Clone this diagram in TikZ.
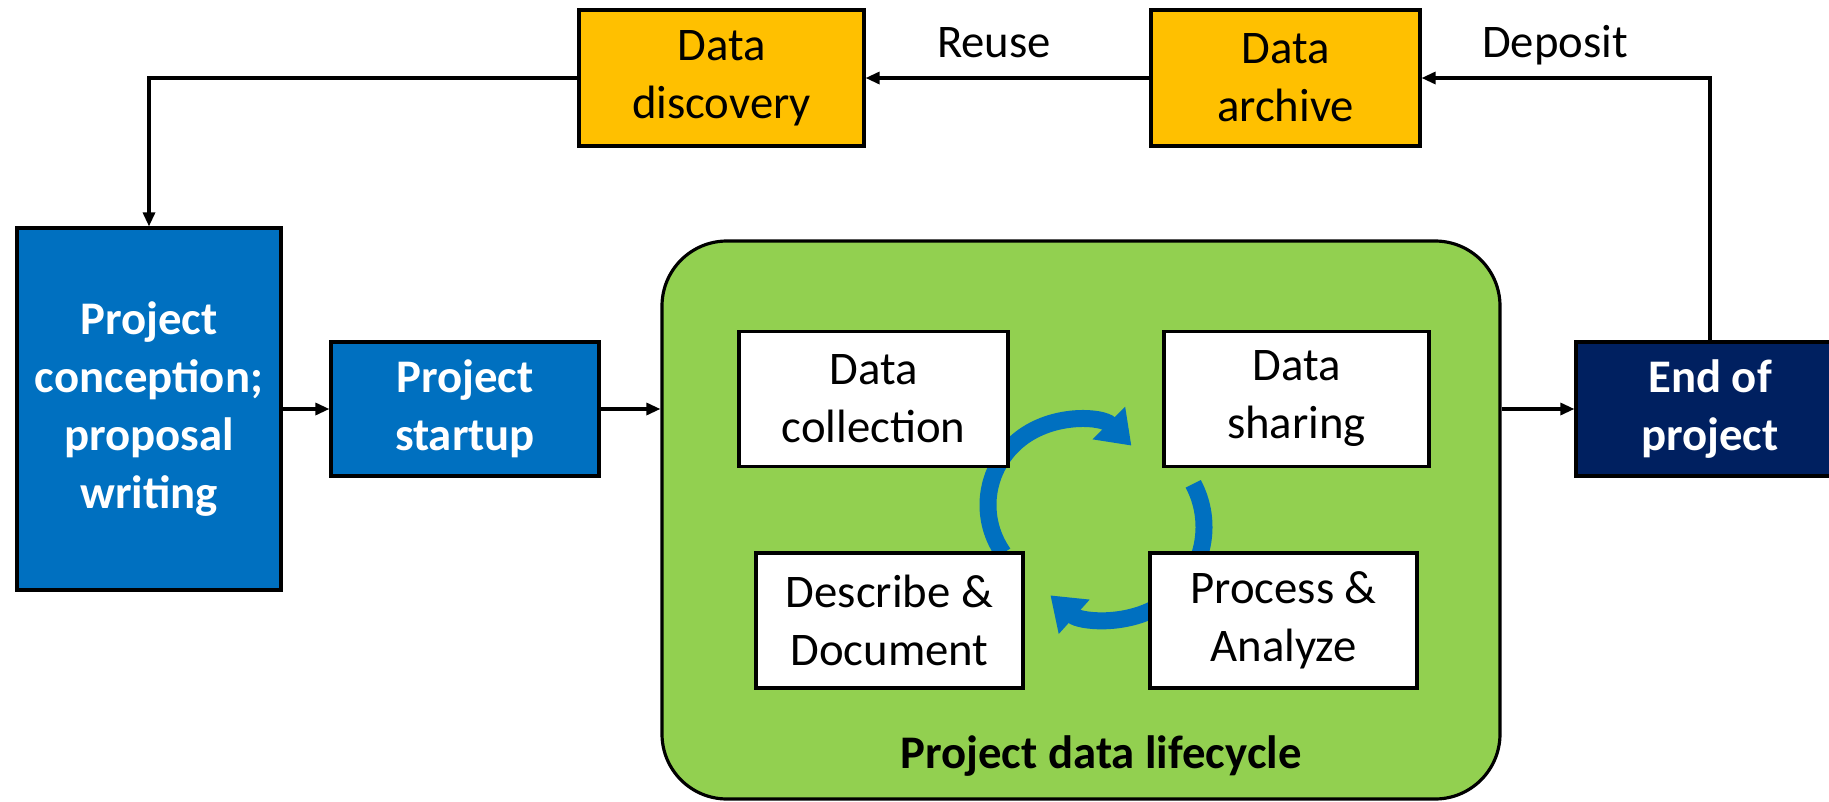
\documentclass[tikz,border=0pt]{standalone}
\usepackage{fontspec}
\setmainfont{Carlito}
\usetikzlibrary{arrows.meta}
\definecolor{boxorange}{HTML}{FFC000}
\definecolor{boxblue}{HTML}{0070C0}
\definecolor{boxnavy}{HTML}{002060}
\definecolor{cyclegreen}{HTML}{92D050}
\newcommand{\boxfont}{\fontsize{13.3}{16.5}\selectfont}
\tikzset{
	box/.style={draw=black,line width=0.9pt,align=center,inner sep=0pt,font=\boxfont},
	orangebox/.style={box,fill=boxorange,minimum height=1.36cm},
	bluebox/.style={box,fill=boxblue,text=white,font=\boxfont\bfseries},
	whitebox/.style={box,fill=white,minimum width=2.67cm,minimum height=1.35cm},
	link/.style={line width=0.9pt,-{Triangle[length=1.4mm,width=1.2mm]}},
	turn/.style={boxblue,line width=1.7mm,-{Triangle[length=3.2mm,width=4.4mm]}}
}
\begin{document}
\begin{tikzpicture}
	\useasboundingbox (0,0) rectangle (18.29,-8.02);
	\clip (0,0) rectangle (18.29,-8.02);
	\node[orangebox,minimum width=2.85cm] (disc) at (7.215,-0.78) {Data\\discovery};
	\node[orangebox,minimum width=2.69cm] (arch) at (12.855,-0.78) {Data\\archive};
	\node[bluebox,minimum width=2.64cm,minimum height=3.62cm] (concept) at (1.49,-4.09) {Project\\conception;\\proposal\\writing};
	\node[bluebox,minimum width=2.68cm,minimum height=1.34cm] (startup) at (4.65,-4.09) {Project\\startup};
	\node[bluebox,fill=boxnavy,minimum width=2.68cm,minimum height=1.34cm] (endp) at (17.10,-4.09) {End of\\project};
	% green panel first, then the cycle arrows, then the four steps over them
	\node[box,fill=cyclegreen,rounded corners=0.65cm,minimum width=8.38cm,minimum height=5.58cm] (cycle) at (10.81,-5.20) {};
	\node[font=\boxfont\bfseries,anchor=base] (cyclelbl) at (11.01,-7.68) {Project data lifecycle};
	\coordinate (c1) at (10.72,-5.05);
	\coordinate (c2) at (11.12,-5.27);
	\draw[turn] (c1) ++(215:0.84) arc[start angle=215,end angle=45,radius=0.84];
	\draw[turn] (c2) ++(28:0.92) arc[start angle=28,end angle=-132,radius=0.92];
	\node[whitebox,minimum width=2.69cm] (collect) at (8.735,-3.99) {Data\\collection};
	\node[whitebox,minimum width=2.65cm] (share) at (12.965,-3.99) {Data\\sharing};
	\node[whitebox] (describe) at (8.895,-6.205) {Describe \&\\Document};
	\node[whitebox] (process) at (12.835,-6.205) {Process \&\\Analyze};
	\draw[link] (disc.west) -| (concept.north);
	\draw[link] (arch.west) -- (disc.east);
	\draw[link] (endp.north) |- (arch.east);
	\draw[link] (concept.east) -- (startup.west);
	\draw[link] (startup.east) -- (startup.east -| cycle.west);
	\draw[link] (cycle.east |- endp.west) -- (endp.west);
	\node[font=\boxfont,anchor=base] (reuse) at (9.94,-0.57) {Reuse};
	\node[font=\boxfont,anchor=base] (deposit) at (15.55,-0.57) {Deposit};
\end{tikzpicture}
\end{document}
